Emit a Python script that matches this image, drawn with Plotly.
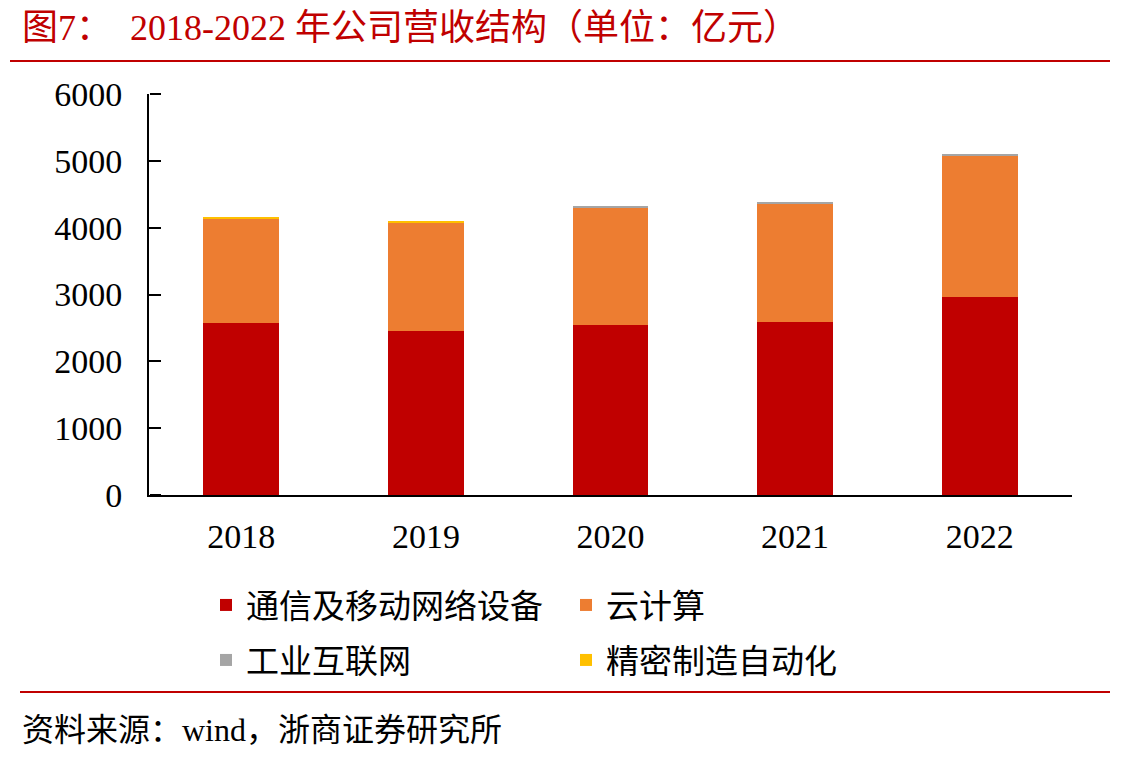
import plotly.graph_objects as go

years = ["2018", "2019", "2020", "2021", "2022"]
telecom = [2571, 2451, 2541, 2586, 2960]
cloud = [1560, 1630, 1765, 1781, 2117]
industrial = [2, 2, 14, 18, 18]
precision = [16, 14, 0, 0, 0]
series_names = ["通信及移动网络设备", "云计算", "工业互联网", "精密制造自动化"]
y_ticks = [0, 1000, 2000, 3000, 4000, 5000, 6000]

colors = ["#C00000", "#ED7D31", "#A5A5A5", "#FFC000"]
FONT = "Liberation Serif, Noto Sans CJK SC, serif"
RED = "#C00000"

fig = go.Figure()
for vals, name, col, leg in zip([telecom, cloud, industrial, precision], series_names, colors,
                                ["legend", "legend", "legend2", "legend2"]):
    fig.add_trace(go.Bar(x=years, y=vals, name=name,
                         marker=dict(color=col, line=dict(width=0)),
                         legend=leg))

# empty helper trace so the tick-only overlay axis is drawn
fig.add_trace(go.Scatter(x=[], y=[], yaxis="y2", showlegend=False, hoverinfo="skip"))

L, R, T, B = 149, 69, 94, 266
W, H = 1141, 761
pw = W - L - R
ph = H - T - B

def px(x):
    return (x - L) / pw

def py(y):
    return (H - B - y) / ph

legend_common = dict(orientation="h", xanchor="left", yanchor="middle",
                     font=dict(family=FONT, size=33, color="#000"),
                     entrywidth=315, entrywidthmode="pixels", bgcolor="rgba(0,0,0,0)",
                     traceorder="normal", itemclick=False)

fig.update_layout(
    width=W, height=H,
    margin=dict(l=L, r=R, t=T, b=B),
    paper_bgcolor="white", plot_bgcolor="white",
    barmode="stack", bargap=0.59,
    showlegend=True,
    legend=dict(x=px(206), y=py(605), **legend_common),
    legend2=dict(x=px(206), y=py(660), **legend_common),
    font=dict(family=FONT, color="#000"),
    title=dict(text="图7：  2018-2022 年公司营收结构（单位：亿元）",
               x=22 / W, xref="container", xanchor="left",
               y=1 - 27 / H, yref="container", yanchor="middle",
               font=dict(family=FONT, size=36, color=RED)),
    xaxis=dict(type="category", showline=True, linecolor="#000", linewidth=2,
               ticks="", showgrid=False,
               tickfont=dict(family=FONT, size=34, color="#000"), ticklabelstandoff=10),
    yaxis=dict(range=[0, 6000], tickvals=y_ticks, showline=True, linecolor="#000", linewidth=2,
               ticks="inside", ticklen=11, tickwidth=2, tickcolor="#000",
               showgrid=False, zeroline=False,
               tickfont=dict(family=FONT, size=34, color="#000"), ticklabelstandoff=18),
    yaxis2=dict(range=[0, 6000], tickvals=y_ticks, overlaying="y", side="right",
                anchor="free", position=0, showline=False, showgrid=False, zeroline=False,
                ticks="outside", ticklen=11, tickwidth=2, tickcolor="#000",
                showticklabels=False),
)

fig.add_shape(type="line", xref="paper", yref="paper", x0=px(10), x1=px(1110),
              y0=py(61), y1=py(61), line=dict(color=RED, width=2))
fig.add_shape(type="line", xref="paper", yref="paper", x0=px(20), x1=px(1110),
              y0=py(692), y1=py(692), line=dict(color=RED, width=2))

fig.add_annotation(text="资料来源：wind，浙商证券研究所", xref="paper", yref="paper",
                   x=px(20), y=py(730), xanchor="left", yanchor="middle", showarrow=False,
                   font=dict(family=FONT, size=32, color="#000"))

fig.write_html("out.html")
